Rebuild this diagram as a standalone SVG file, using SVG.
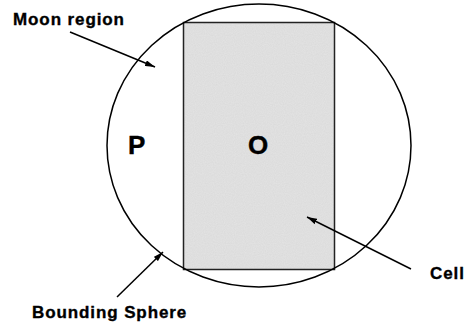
<svg xmlns="http://www.w3.org/2000/svg" width="470" height="325" viewBox="0 0 470 325">
<defs>
<marker id="ah" viewBox="0 0 10 6" refX="10" refY="3" markerWidth="10" markerHeight="6" markerUnits="userSpaceOnUse" orient="auto">
<path d="M0,0 L10,3 L0,6 Z" fill="#000"/>
</marker>
<filter id="grain" x="0" y="0" width="100%" height="100%">
<feTurbulence type="fractalNoise" baseFrequency="0.9" numOctaves="1" seed="3" result="n"/>
<feColorMatrix in="n" type="matrix" values="0 0 0 0 0.82  0 0 0 0 0.82  0 0 0 0 0.82  0 0 0 -1.2 1.1" result="g"/>
<feComposite in="g" in2="SourceGraphic" operator="in"/>
</filter>
</defs>
<style>
.lbl{font-family:"Liberation Sans",Arial,sans-serif;font-weight:bold;font-size:17px;letter-spacing:0.9px;fill:#000;stroke:#000;stroke-width:0.35px}
.big{font-family:"Liberation Sans",Arial,sans-serif;font-weight:bold;font-size:26px;fill:#000;stroke:#000;stroke-width:0.4px}
.edge{stroke:#000;stroke-width:1.5;fill:none;marker-end:url(#ah)}
</style>
<rect width="470" height="325" fill="#fff"/>
<g id="cell">
<rect x="183.5" y="22.5" width="151" height="247" fill="#dadada"/>
<rect x="183.5" y="22.5" width="151" height="247" fill="#dadada" filter="url(#grain)" opacity="0.6"/>
<rect x="183.5" y="22.5" width="151" height="247" fill="none" stroke="#222" stroke-width="1.5"/>
</g>
<g id="sphere">
<ellipse cx="259" cy="145.5" rx="152" ry="141.5" fill="none" stroke="#000" stroke-width="1.5"/>
</g>
<g id="P"><text class="big" x="128" y="154">P</text></g>
<g id="O"><text class="big" x="248" y="154">O</text></g>
<g id="moon-label"><text class="lbl" x="13" y="25">Moon region</text></g>
<g id="bounding-label"><text class="lbl" x="32" y="318">Bounding Sphere</text></g>
<g id="cell-label"><text class="lbl" x="430" y="279">Cell</text></g>
<g id="connectors">
<line class="edge" x1="70" y1="32" x2="155" y2="67"/>
<line class="edge" x1="117" y1="297" x2="163" y2="252"/>
<line class="edge" x1="411" y1="269" x2="307" y2="217"/>
</g>
</svg>
